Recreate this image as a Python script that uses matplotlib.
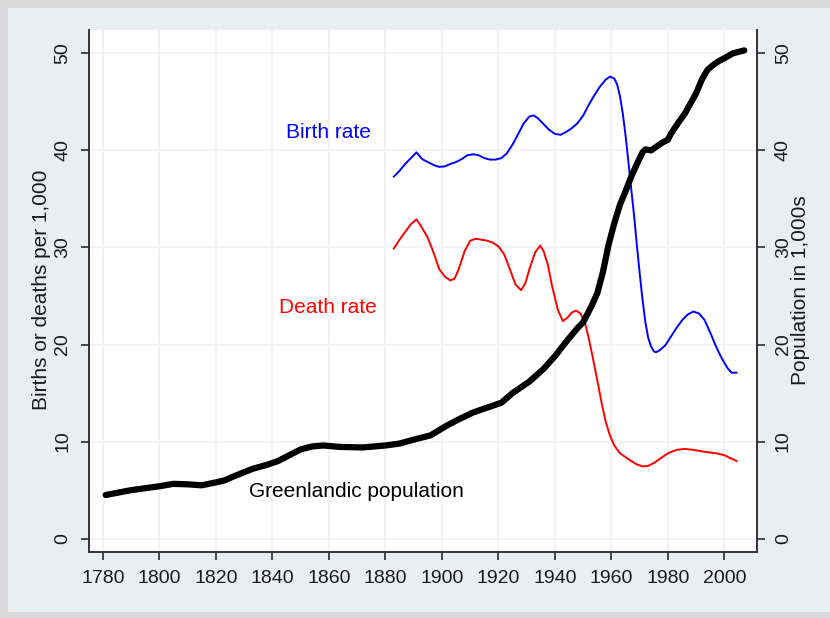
import numpy as np
import matplotlib.pyplot as plt
from matplotlib.patches import Rectangle

# Greenlandic population, thousands (right axis)
pop_years = [1781, 1790, 1800, 1805, 1810, 1815, 1820, 1823, 1827, 1833,
             1838, 1842, 1846, 1850, 1854, 1858, 1864, 1872, 1880, 1885,
             1890, 1896, 1902, 1906, 1911, 1916, 1921, 1925, 1931, 1936,
             1940, 1944, 1948, 1950, 1953, 1955, 1957, 1959, 1961, 1963,
             1965, 1967, 1969, 1971, 1972, 1974, 1976, 1978, 1980, 1981,
             1984, 1986, 1990, 1992, 1994, 1996, 1998, 2000, 2003, 2007]
pop_values = [4.5, 5.0, 5.4, 5.65, 5.6, 5.5, 5.8, 6.0, 6.5, 7.2,
              7.6, 8.0, 8.6, 9.2, 9.5, 9.6, 9.45, 9.4, 9.6, 9.8,
              10.2, 10.65, 11.7, 12.3, 13.0, 13.5, 14.0, 15.0, 16.2, 17.5,
              18.8, 20.3, 21.7, 22.3, 24.0, 25.3, 27.5, 30.3, 32.5, 34.4,
              35.8, 37.3, 38.6, 39.8, 40.1, 40.0, 40.4, 40.8, 41.1, 41.7,
              43.0, 43.8, 45.9, 47.3, 48.3, 48.8, 49.2, 49.5, 50.0, 50.3]

# birth rate per 1,000
birth_years = [1883, 1885, 1887, 1889, 1891, 1893, 1895, 1897, 1899, 1901,
               1903, 1905, 1907, 1909, 1911, 1913, 1915, 1917, 1919, 1921,
               1923, 1925, 1927, 1929, 1931, 1932.5, 1934, 1936, 1938, 1940,
               1942, 1944, 1946, 1948, 1950, 1952, 1954, 1956, 1958, 1959.5,
               1961, 1962, 1963, 1964, 1965, 1966, 1967, 1968, 1969, 1970,
               1971, 1972, 1973, 1974, 1975, 1975.7, 1977, 1979, 1981, 1983,
               1985, 1987, 1989, 1991, 1993, 1995, 1997, 1999, 2001, 2002.5,
               2004.3]
birth_values = [37.3, 37.9, 38.6, 39.2, 39.8, 39.1, 38.8, 38.5, 38.3, 38.35,
                38.6, 38.8, 39.1, 39.5, 39.6, 39.5, 39.2, 39.05, 39.05, 39.2,
                39.7, 40.6, 41.7, 42.8, 43.5, 43.6, 43.3, 42.7, 42.1, 41.7,
                41.6, 41.9, 42.3, 42.8, 43.6, 44.7, 45.7, 46.6, 47.3, 47.6,
                47.4, 46.8, 45.6, 43.8, 41.5, 38.8, 36.0, 33.3, 30.2, 27.3,
                24.6, 22.3, 20.7, 19.8, 19.3, 19.2, 19.4, 19.9, 20.8, 21.7,
                22.5, 23.1, 23.4, 23.2, 22.5, 21.2, 19.8, 18.6, 17.6, 17.1,
                17.1]

# death rate per 1,000
death_years = [1883, 1885, 1887, 1889, 1891, 1893, 1895, 1897, 1899, 1901,
               1903, 1904.5, 1906, 1908, 1910, 1912, 1914, 1916, 1918, 1920,
               1922, 1924, 1926, 1928, 1929.5, 1931, 1933, 1934.8, 1936, 1937.5,
               1939, 1941, 1942.8, 1944.5, 1946, 1947.5, 1949, 1950.5, 1952, 1953.5,
               1955, 1956.5, 1958, 1959.5, 1961, 1963, 1965, 1967, 1969, 1971,
               1973, 1975, 1977, 1980, 1983, 1986, 1989, 1993, 1997, 2000,
               2002, 2004.3]
death_values = [29.9, 30.8, 31.6, 32.4, 32.9, 32.0, 31.0, 29.5, 27.8, 27.0,
                26.6, 26.8, 27.8, 29.6, 30.7, 30.9, 30.8, 30.7, 30.5, 30.1,
                29.3, 27.8, 26.2, 25.6, 26.3, 27.8, 29.5, 30.2, 29.6, 28.2,
                26.0, 23.6, 22.4, 22.8, 23.3, 23.5, 23.2, 22.4, 20.6, 18.5,
                16.3, 14.0, 12.0, 10.6, 9.6, 8.8, 8.4, 8.0, 7.65, 7.45,
                7.5, 7.8, 8.2, 8.8, 9.15, 9.25, 9.15, 8.95, 8.8, 8.6,
                8.3, 8.0]

x_ticks = list(range(1780, 2001, 20))
y_ticks = [0, 10, 20, 30, 40, 50]

plt.rcParams['font.family'] = ['Liberation Sans', 'DejaVu Sans']

fig = plt.figure(figsize=(8.3, 6.18), dpi=100, facecolor='#d9d9d9')
# light inner panel (grey frame left/top/bottom)
fig.patches.append(Rectangle((8 / 830, 6 / 618), 1, 604 / 618,
                             transform=fig.transFigure, facecolor='#e9eff1',
                             edgecolor='none', zorder=-10))

ax = fig.add_axes([89.3 / 830, 66.3 / 618, 667.4 / 830, 521.7 / 618])
ax.set_facecolor('white')
ax.set_xlim(1775.2, 2011.4)
ax.set_ylim(-1.34, 52.4)

for xt in x_ticks:
    ax.axvline(xt, color='#f3f3f3', lw=1.5, zorder=0)
for yt in y_ticks:
    ax.axhline(yt, color='#f3f3f3', lw=1.5, zorder=0)

ax.plot(birth_years, birth_values, color='#0000ff', lw=1.4, zorder=3,
        solid_joinstyle='round')
ax.plot(death_years, death_values, color='#ff0000', lw=1.4, zorder=3,
        solid_joinstyle='round')

ax2 = ax.twinx()
ax2.set_ylim(-1.34, 52.4)
ax2.plot(pop_years, pop_values, color='black', lw=4.5,
         solid_capstyle='round', solid_joinstyle='round', zorder=4)

ax.text(1859.7, 41.8, 'Birth rate', color='#0000ff', fontsize=15,
        ha='center', va='center')
ax.text(1859.7, 23.8, 'Death rate', color='#ff0000', fontsize=15,
        ha='center', va='center')
ax.text(1869.9, 4.84, 'Greenlandic population', color='black', fontsize=15,
        ha='center', va='center')

for a in (ax, ax2):
    a.spines['top'].set_visible(False)
    for s in ('left', 'right', 'bottom'):
        a.spines[s].set_color('#333333')
        a.spines[s].set_linewidth(1.2)

ax.set_xticks(x_ticks)
ax.set_yticks(y_ticks)
ax2.set_yticks(y_ticks)
ax.tick_params(axis='x', length=6, width=1.1, pad=7, labelsize=14,
               colors='#1a1a1a')
ax.tick_params(axis='y', length=6, width=1.1, pad=7, labelsize=14,
               colors='#1a1a1a', labelrotation=90)
ax2.tick_params(axis='y', length=6, width=1.1, pad=7, labelsize=14,
                colors='#1a1a1a', labelrotation=90)
for lbl in ax.get_yticklabels() + ax2.get_yticklabels():
    lbl.set_va('center')

fig.text(41.7 / 830, (618 - 290) / 618, 'Births or deaths per 1,000',
         rotation=90, ha='center', va='center', fontsize=15, color='#1a1a1a')
fig.text(800 / 830, (618 - 290) / 618, 'Population in 1,000s',
         rotation=90, ha='center', va='center', fontsize=15, color='#1a1a1a')

fig.savefig('out.png', dpi=100, facecolor=fig.get_facecolor())
